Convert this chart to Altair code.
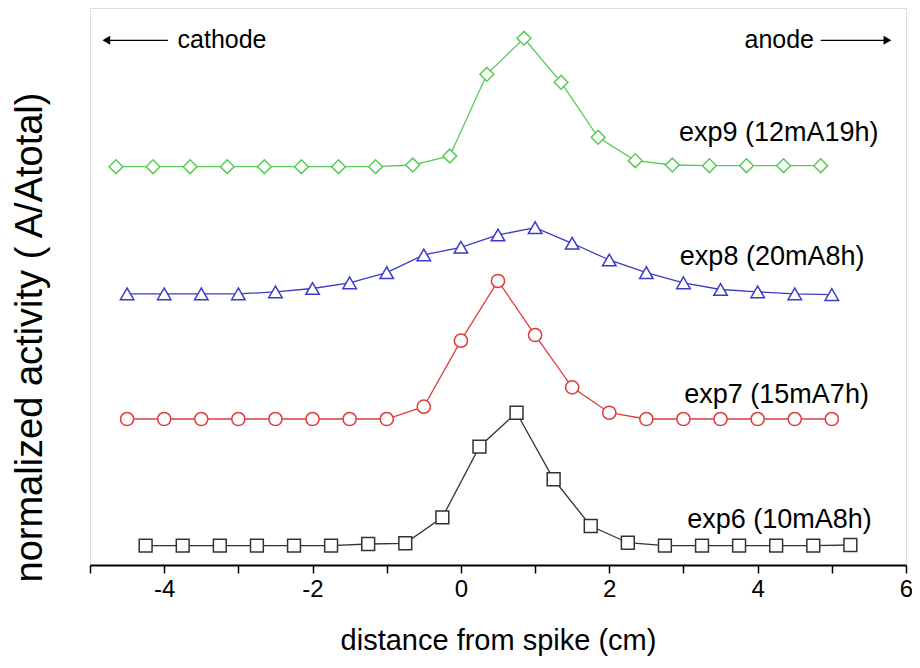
import altair as alt
import pandas as pd

FONT = "Liberation Sans"

# ---- data (y in arbitrary normalized units, 0-100) ----
series_names = ["exp6 (10mA8h)", "exp7 (15mA7h)", "exp8 (20mA8h)", "exp9 (12mA19h)"]
series_colors = ["#333333", "#e03c3c", "#3b3bc8", "#55cc55"]
series_shapes = ["square", "circle", "triangle-up", "diamond"]
series_sizes = [165, 190, 200, 290]

x_exp6 = [-4.25, -3.75, -3.25, -2.75, -2.25, -1.75, -1.25, -0.75, -0.25, 0.25,
          0.75, 1.25, 1.75, 2.25, 2.75, 3.25, 3.75, 4.25, 4.75, 5.25]
y_exp6 = [3.47, 3.47, 3.47, 3.47, 3.47, 3.47, 3.77, 3.90, 8.56, 21.24,
          27.34, 15.39, 7.00, 4.00, 3.47, 3.47, 3.47, 3.47, 3.47, 3.59]

x_exp7 = [-4.5, -4.0, -3.5, -3.0, -2.5, -2.0, -1.5, -1.0, -0.5, 0.0,
          0.5, 1.0, 1.5, 2.0, 2.5, 3.0, 3.5, 4.0, 4.5, 5.0]
y_exp7 = [26.21, 26.21, 26.21, 26.21, 26.21, 26.21, 26.21, 26.21, 28.42, 40.27,
          50.99, 41.29, 31.90, 27.34, 26.21, 26.21, 26.21, 26.21, 26.21, 26.21]

x_exp8 = [-4.5, -4.0, -3.5, -3.0, -2.5, -2.0, -1.5, -1.0, -0.5, 0.0,
          0.5, 1.0, 1.5, 2.0, 2.5, 3.0, 3.5, 4.0, 4.5, 5.0]
y_exp8 = [48.67, 48.67, 48.67, 48.67, 49.03, 49.64, 50.66, 52.48, 55.66, 57.04,
          59.25, 60.56, 57.76, 54.76, 52.48, 50.66, 49.46, 49.03, 48.67, 48.55]

x_exp9 = [-4.65, -4.15, -3.65, -3.15, -2.65, -2.15, -1.65, -1.15, -0.65, -0.15,
          0.35, 0.85, 1.35, 1.85, 2.35, 2.85, 3.35, 3.85, 4.35, 4.85]
y_exp9 = [71.51, 71.51, 71.51, 71.51, 71.51, 71.51, 71.51, 71.51, 71.81, 73.43,
          88.10, 94.56, 86.66, 76.79, 72.59, 71.81, 71.69, 71.69, 71.69, 71.69]

# series label anchors (right edge, vertical centre)
label_x = [5.54, 5.50, 5.44, 5.63]
label_y = [8.1, 30.5, 55.3, 77.6]

# electrode annotations
note_text = ["cathode", "anode"]
note_x = [-3.82, 4.76]
note_y = [94.2, 94.2]
arrow_x_start = [-3.95, 4.85]
arrow_x_end = [-4.78, 5.75]

x_ticks = [-5, -4, -3, -2, -1, 0, 1, 2, 3, 4, 5, 6]

# ---- build tables ----
rows = []
for name, xs, ys in zip(series_names, [x_exp6, x_exp7, x_exp8, x_exp9],
                        [y_exp6, y_exp7, y_exp8, y_exp9]):
    for xv, yv in zip(xs, ys):
        rows.append({"series": name, "x": xv, "y": yv})
df = pd.DataFrame(rows)

labels_df = pd.DataFrame({"series": series_names, "x": label_x, "y": label_y})
left_note = pd.DataFrame({"text": [note_text[0]], "x": [note_x[0]], "y": [note_y[0]],
                          "x1": [arrow_x_start[0]], "x2": [arrow_x_end[0]]})
right_note = pd.DataFrame({"text": [note_text[1]], "x": [note_x[1]], "y": [note_y[1]],
                           "x1": [arrow_x_start[1]], "x2": [arrow_x_end[1]]})

xscale = alt.Scale(domain=[-5, 6], nice=False, zero=False)
yscale = alt.Scale(domain=[0, 100], nice=False, zero=False)
cscale = alt.Scale(domain=series_names, range=series_colors)

X = alt.X("x:Q", scale=xscale,
          axis=alt.Axis(values=x_ticks, title="distance from spike (cm)",
                        labelExpr="datum.value % 2 == 0 ? replace(format(datum.value, 'd'), '\u2212', '-') : ''",
                        grid=False, tickSize=8, tickWidth=1.5, tickColor="black",
                        domainColor="black", domainWidth=2,
                        labelFont=FONT, labelFontSize=24, labelColor="black",
                        labelPadding=4, labelFlush=False,
                        titleFont=FONT, titleFontSize=29, titleFontWeight="normal",
                        titleColor="black", titleY=75, titleBaseline="middle"))
Y = alt.Y("y:Q", scale=yscale,
          axis=alt.Axis(title="normalized activity ( A/Atotal)", labels=False,
                        ticks=False, grid=False, domain=False,
                        titleFont=FONT, titleFontSize=38, titleFontWeight="normal",
                        titleColor="black", titleX=-60, titleY=329,
                        titleAlign="center", titleBaseline="middle", titleAngle=270))

base = alt.Chart(df)

lines = base.mark_line(strokeWidth=1.3).encode(
    x=X, y=Y,
    color=alt.Color("series:N", scale=cscale, legend=None),
    detail="series:N",
)

points = base.mark_point(filled=True, fill="white", strokeWidth=1.5, opacity=1).encode(
    x="x:Q", y="y:Q",
    stroke=alt.Stroke("series:N", scale=cscale, legend=None),
    shape=alt.Shape("series:N", scale=alt.Scale(domain=series_names, range=series_shapes), legend=None),
    size=alt.Size("series:N", scale=alt.Scale(domain=series_names, range=series_sizes), legend=None),
)

labels = alt.Chart(labels_df).mark_text(
    align="right", baseline="middle", font=FONT, fontSize=27, color="black"
).encode(x="x:Q", y="y:Q", text="series:N")

note_l = alt.Chart(left_note).mark_text(
    align="left", baseline="middle", font=FONT, fontSize=25, color="black"
).encode(x="x:Q", y="y:Q", text="text:N")
note_r = alt.Chart(right_note).mark_text(
    align="right", baseline="middle", font=FONT, fontSize=25, color="black"
).encode(x="x:Q", y="y:Q", text="text:N")

shaft_l = alt.Chart(left_note).mark_rule(color="black", strokeWidth=1.3).encode(
    x="x1:Q", x2="x2:Q", y="y:Q")
shaft_r = alt.Chart(right_note).mark_rule(color="black", strokeWidth=1.3).encode(
    x="x1:Q", x2="x2:Q", y="y:Q")
head_l = alt.Chart(left_note).mark_point(
    shape="triangle-left", filled=True, color="black", size=80, opacity=1
).encode(x="x2:Q", y="y:Q")
head_r = alt.Chart(right_note).mark_point(
    shape="triangle-right", filled=True, color="black", size=80, opacity=1
).encode(x="x2:Q", y="y:Q")

chart = alt.layer(lines, points, labels, note_l, note_r, shaft_l, shaft_r, head_l, head_r).properties(
    width=816, height=557,
    autosize=alt.AutoSizeParams(type="none"),
    padding={"left": 82, "top": 0, "right": 6, "bottom": 93},
).configure_view(stroke="black", strokeWidth=2).configure(background="white")

chart.save("out.html", embed_options={"renderer": "svg", "actions": False})
